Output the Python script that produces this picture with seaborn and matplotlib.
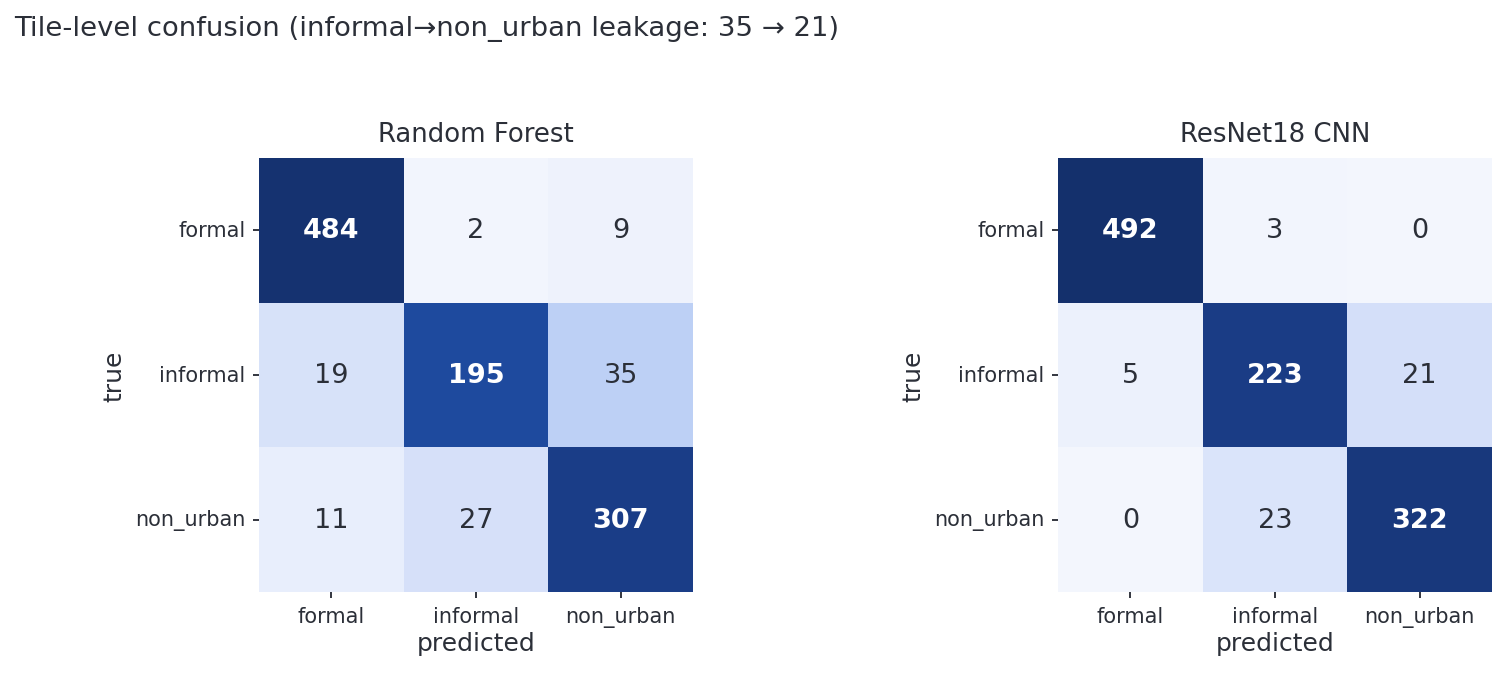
import numpy as np
import matplotlib
matplotlib.use("Agg")
import matplotlib.pyplot as plt
from matplotlib.colors import LinearSegmentedColormap
import seaborn as sns

# Confusion matrices
classes = ["formal", "informal", "non_urban"]
rf_counts = [
    [484, 2, 9],
    [19, 195, 35],
    [11, 27, 307],
]
cnn_counts = [
    [492, 3, 0],
    [5, 223, 21],
    [0, 23, 322],
]
model_names = ["Random Forest", "ResNet18 CNN"]

sns.set_theme(style="ticks")
plt.rcParams["font.family"] = ["DejaVu Sans"]
text_col = "#2b2f38"
plt.rcParams.update({
    "text.color": text_col,
    "axes.labelcolor": text_col,
    "xtick.color": text_col,
    "ytick.color": text_col,
})

# blue ramp, coloured by row share
cmap = LinearSegmentedColormap.from_list(
    "conf_blues",
    [(0.0, "#f3f6fd"), (0.03, "#e9eefc"), (0.08, "#d5e0f9"), (0.14, "#bccff5"),
     (0.45, "#5d86d6"), (0.78, "#1e4b9f"), (0.9, "#1a3c85"), (1.0, "#14306b")],
)

fig = plt.figure(figsize=(10.04, 4.52), dpi=150)
positions = [[0.172, 0.1254, 0.2882, 0.640], [0.7025, 0.1254, 0.2882, 0.640]]

for pos, name, counts in zip(positions, model_names, [rf_counts, cnn_counts]):
    ax = fig.add_axes(pos)
    cm = np.array(counts)
    share = cm / cm.sum(axis=1, keepdims=True)
    sns.heatmap(share, annot=cm, fmt="d", cmap=cmap, vmin=0, vmax=1, cbar=False,
                square=True, xticklabels=classes, yticklabels=classes, ax=ax,
                annot_kws={"fontsize": 13})
    for t in ax.texts:
        x, y = t.get_position()
        if int(x) == int(y):
            t.set_fontweight("bold")
            t.set_color("white")
        else:
            t.set_color(text_col)
    ax.set_title(name, fontsize=12.5, pad=8)
    ax.set_xlabel("predicted", fontsize=12, labelpad=2)
    ax.set_ylabel("true", fontsize=12)
    ax.tick_params(axis="both", labelsize=10, length=3, width=0.9)
    ax.tick_params(axis="y", rotation=0)

fig.text(0.0093, 0.976, "Tile-level confusion (informal\u2192non_urban leakage: 35 \u2192 21)",
         fontsize=13.2, ha="left", va="top")

fig.savefig("out.png", dpi=150)
